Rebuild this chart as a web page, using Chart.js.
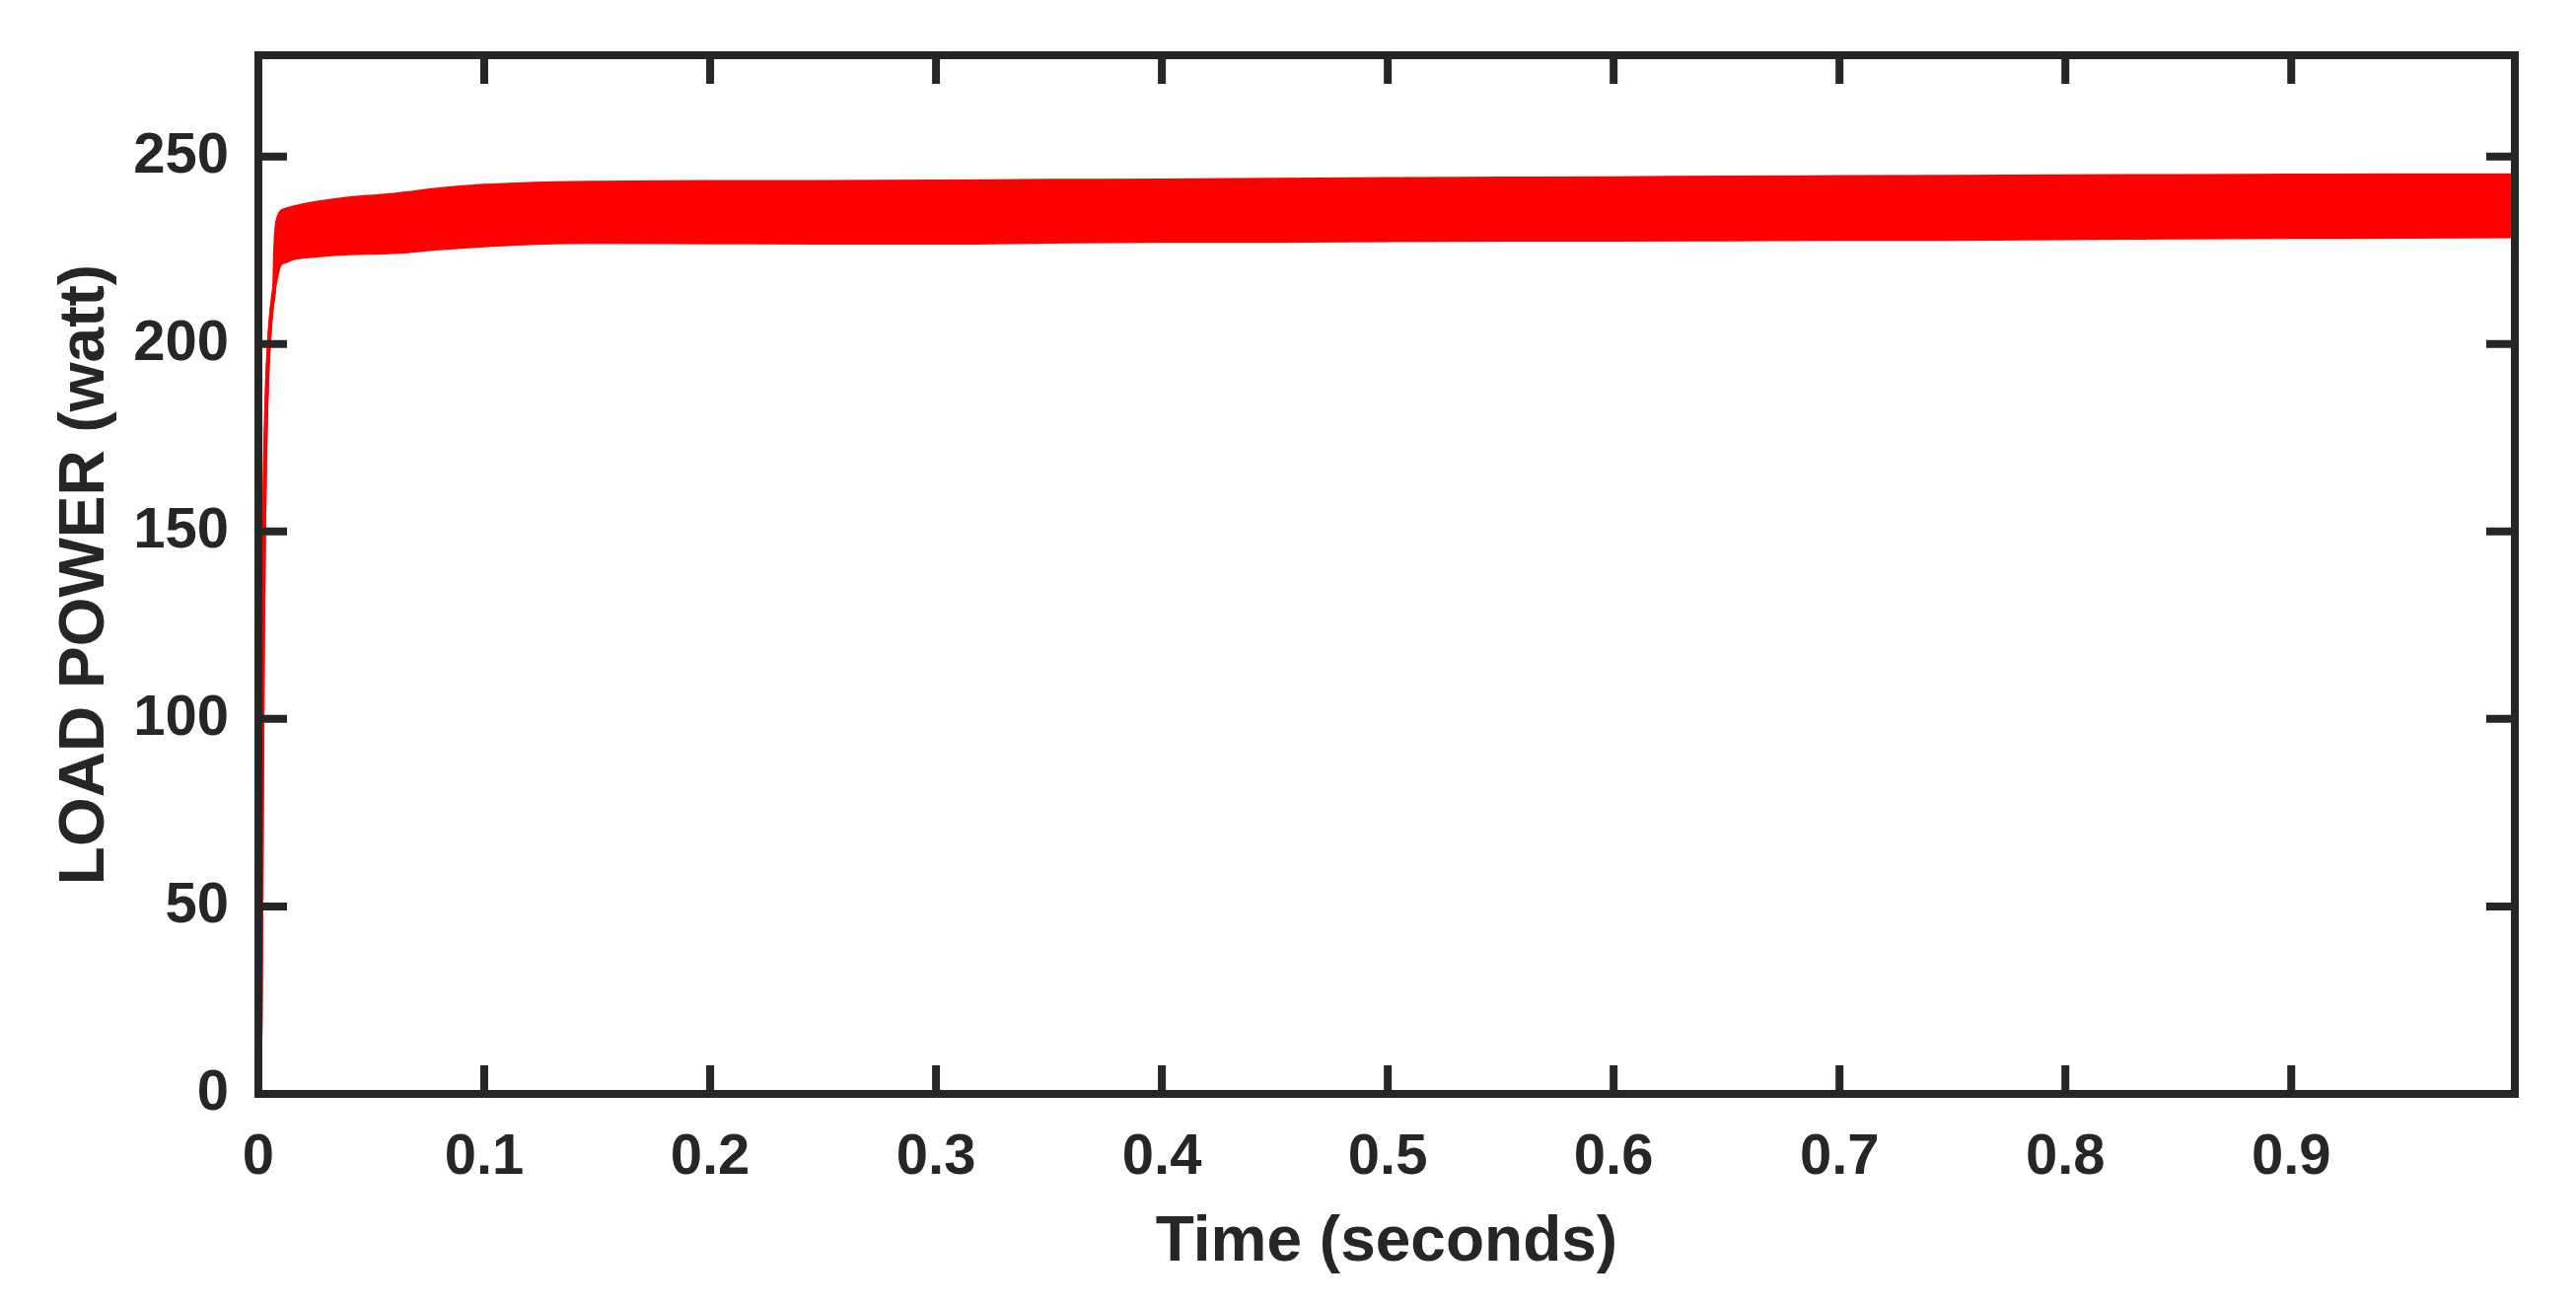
<!DOCTYPE html>
<html>
<head>
<meta charset="utf-8">
<script src="https://cdn.jsdelivr.net/npm/chart.js@4"></script>
<style>
  html, body { margin: 0; padding: 0; background: #fff; }
  #wrap { width: 2612px; height: 1324px; }
</style>
</head>
<body>
<div id="wrap"><canvas id="myChart" width="2612" height="1324"></canvas></div>
<script>
// time (s) and the envelope of the load power band (watt)
const time = [0, 0.001, 0.0015, 0.002, 0.0025, 0.003, 0.0035, 0.004, 0.005, 0.006,
    0.007, 0.0075, 0.008, 0.009, 0.01, 0.012, 0.015, 0.02, 0.03, 0.04,
    0.06, 0.08, 0.1, 0.12, 0.15, 0.2, 0.25, 0.3, 0.35, 0.4,
    0.45, 0.5, 0.55, 0.6, 0.65, 0.7, 0.75, 0.8, 0.85, 0.9,
    0.95, 0.999];
const powerLow = [0, 20, 70, 120, 150, 170, 183, 192, 203, 210,
    215, 216.5, 218, 220.5, 221.5, 222, 222.8, 223.3, 223.8, 224.2,
    224.5, 225.5, 226.3, 226.9, 227.2, 227.1, 227.0, 227.0, 227.3, 227.5,
    227.5, 227.7, 227.8, 227.8, 227.9, 228.0, 228.0, 228.2, 228.4, 228.5,
    228.6, 228.7];
const powerHigh = [0, 20, 70, 120, 150, 170, 183, 192, 203, 210,
    215, 226, 231, 234, 235.2, 235.8, 236.3, 237, 238, 238.8,
    239.8, 241.2, 242.2, 242.7, 243, 243.2, 243.2, 243.3, 243.5, 243.6,
    243.8, 244.0, 244.1, 244.2, 244.4, 244.5, 244.6, 244.7, 244.8, 244.9,
    245.0, 245.0];

const xTicks = [0, 0.1, 0.2, 0.3, 0.4, 0.5, 0.6, 0.7, 0.8, 0.9];
const yTicks = [0, 50, 100, 150, 200, 250];

const axisColor = '#262626';
const fontFamily = '"Liberation Sans", Arial, Helvetica, sans-serif';

// box + inward ticks on all four sides (matlab style)
const boxPlugin = {
    id: 'box',
    afterDraw(chart) {
        const {ctx, chartArea: a, scales: {x, y}} = chart;
        const tl = 25;
        ctx.save();
        ctx.strokeStyle = axisColor;
        ctx.lineWidth = 8;
        ctx.lineCap = 'square';
        ctx.beginPath();
        xTicks.forEach(v => {
            const px = x.getPixelForValue(v);
            ctx.moveTo(px, a.bottom); ctx.lineTo(px, a.bottom - tl);
            ctx.moveTo(px, a.top); ctx.lineTo(px, a.top + tl);
        });
        yTicks.forEach(v => {
            const py = y.getPixelForValue(v);
            ctx.moveTo(a.left, py); ctx.lineTo(a.left + tl, py);
            ctx.moveTo(a.right, py); ctx.lineTo(a.right - tl, py);
        });
        ctx.stroke();
        ctx.lineCap = 'butt';
        ctx.strokeRect(a.left, a.top, a.right - a.left, a.bottom - a.top);
        ctx.restore();
    }
};

const ctx = document.getElementById('myChart');

new Chart(ctx, {
    type: 'line',
    data: {
        datasets: [
            {
                label: 'low',
                data: time.map((t, i) => ({x: t, y: powerLow[i]})),
                borderColor: '#ff0000',
                borderWidth: 4,
                pointRadius: 0,
                fill: false,
                cubicInterpolationMode: 'monotone'
            },
            {
                label: 'high',
                data: time.map((t, i) => ({x: t, y: powerHigh[i]})),
                borderColor: '#ff0000',
                backgroundColor: '#ff0000',
                borderWidth: 4,
                pointRadius: 0,
                fill: '-1',
                cubicInterpolationMode: 'monotone'
            }
        ]
    },
    options: {
        responsive: false,
        animation: false,
        events: [],
        layout: { padding: { top: 56, right: 62, left: 0, bottom: 0 } },
        plugins: {
            legend: { display: false },
            tooltip: { enabled: false }
        },
        scales: {
            x: {
                type: 'linear',
                min: 0,
                max: 0.999,
                afterFit: s => { s.height = 215; s.paddingLeft = 0; s.paddingRight = 0; },
                afterBuildTicks: s => { s.ticks = xTicks.map(v => ({value: v})); },
                grid: { display: false, drawTicks: false },
                border: { display: false },
                ticks: {
                    padding: 30,
                    maxRotation: 0,
                    autoSkip: false,
                    color: axisColor,
                    font: { family: fontFamily, size: 58, weight: 'bold' },
                    callback: v => v === 0 ? '0' : v.toFixed(1)
                },
                title: {
                    display: true,
                    text: 'Time (seconds)',
                    color: axisColor,
                    font: { family: fontFamily, size: 64, weight: 'bold' },
                    padding: { top: 0, bottom: 25 }
                }
            },
            y: {
                min: 0,
                max: 277,
                afterFit: s => { s.width = 262; s.paddingTop = 0; s.paddingBottom = 0; },
                afterBuildTicks: s => { s.ticks = yTicks.map(v => ({value: v})); },
                grid: { display: false, drawTicks: false },
                border: { display: false },
                ticks: {
                    padding: 30,
                    color: axisColor,
                    font: { family: fontFamily, size: 58, weight: 'bold' }
                },
                title: {
                    display: true,
                    text: 'LOAD POWER (watt)',
                    color: axisColor,
                    font: { family: fontFamily, size: 64, weight: 'bold' },
                    padding: { top: 49, bottom: 0 }
                }
            }
        }
    },
    plugins: [boxPlugin]
});
</script>
</body>
</html>
